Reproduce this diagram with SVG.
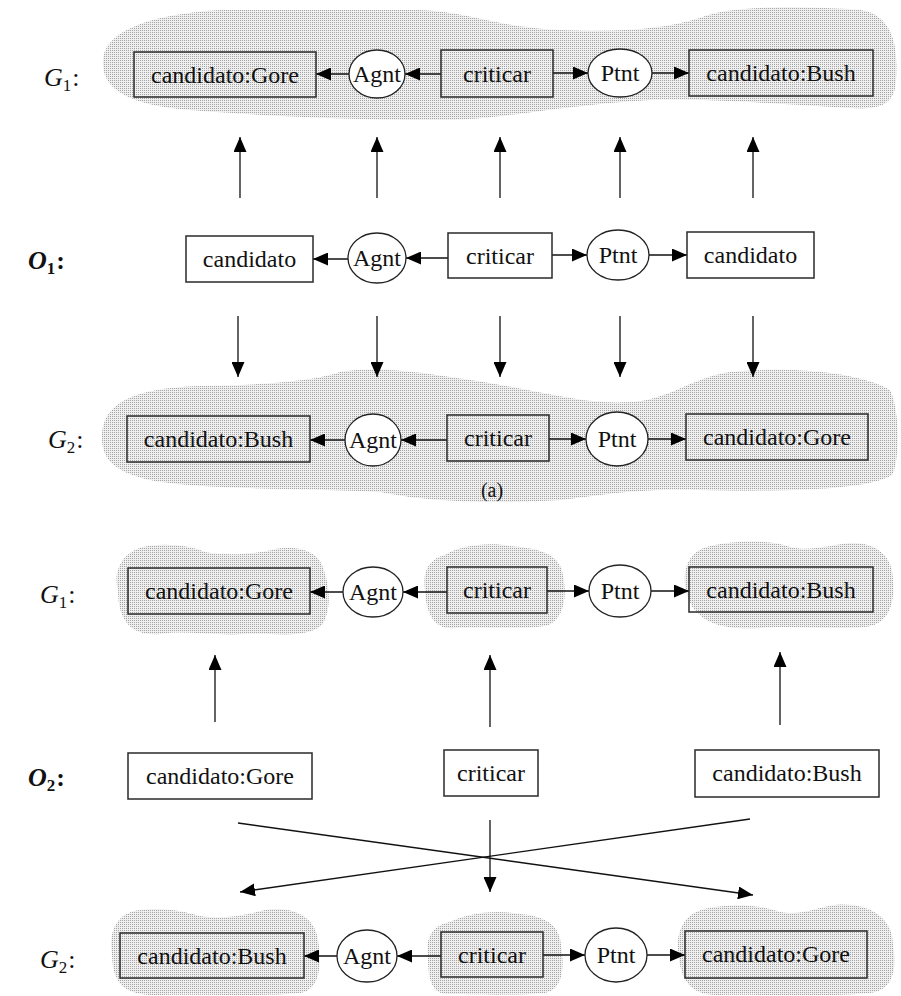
<svg xmlns="http://www.w3.org/2000/svg" width="901" height="996" viewBox="0 0 901 996">
<style>
text{font-family:"Liberation Serif","Times New Roman",serif;fill:#111}
.t{font-size:24px;text-anchor:middle}
.lbl{font-size:26px}
.sub{font-size:17px}
.box{fill:none;stroke:#2a2a2a;stroke-width:1.5}
.obox{fill:#fff;stroke:#2a2a2a;stroke-width:1.5}
.rel{fill:#fff;stroke:#222;stroke-width:1.3}
.blob{fill:url(#dots);stroke:none}
.c{stroke:#111;stroke-width:1.3;fill:none;marker-end:url(#ah)}
</style>
<defs>
<pattern id="dots" patternUnits="userSpaceOnUse" width="2" height="2">
<rect width="2" height="2" fill="#efefef"/>
<rect width="1" height="1" fill="#a4a4a4"/>
</pattern>
<marker id="ah" markerUnits="userSpaceOnUse" markerWidth="15" markerHeight="13" refX="15" refY="6.5" orient="auto">
<path d="M0,0 L15,6.5 L0,13 Z" fill="#000"/>
</marker>
</defs>
<rect width="901" height="996" fill="#fff"/>

<g id="blobs">
<path class="blob" d="M103 65 C100 35,140 15,220 10 L420 10 C470 12,500 28,560 30 C620 32,660 30,700 18 C730 5,800 6,860 10 C895 15,898 50,896 80 C895 105,880 110,850 108 C780 104,700 98,650 100 C560 105,500 120,440 120 C350 120,250 115,190 110 C130 105,104 90,103 65 Z"/>
<path class="blob" d="M102 440 C100 405,130 388,200 386 C260 385,310 382,340 372 C380 365,430 374,470 380 C540 390,580 405,630 402 C670 400,690 378,730 372 C790 366,860 372,890 390 C900 410,900 460,892 475 C870 490,780 492,700 490 C640 488,600 495,560 500 C480 505,420 500,380 492 C300 488,200 490,150 480 C115 472,103 460,102 440 Z"/>
<path class="blob" d="M118 590 C112 570,125 552,140 548 C160 542,190 545,205 552 C225 556,255 554,272 550 C290 545,315 548,322 565 C330 585,332 610,322 625 C305 640,270 632,245 634 C215 636,185 630,160 634 C135 636,118 625,118 590 Z"/>
<path class="blob" d="M425 590 C422 568,432 558,445 555 C460 545,490 542,510 546 C535 548,560 552,563 575 C568 600,562 622,545 626 C515 630,480 626,455 628 C435 630,426 615,425 590 Z"/>
<path class="blob" d="M685 585 C683 560,695 548,715 545 C740 540,770 540,790 547 C810 552,830 545,850 543 C875 542,893 555,893 580 C895 605,888 625,865 627 C830 630,790 625,760 628 C725 630,690 625,685 585 Z"/>
<path class="blob" d="M112 955 C108 930,118 912,140 910 C165 907,185 912,200 916 C225 920,245 915,265 910 C290 906,315 915,318 940 C322 965,320 990,300 993 C260 997,200 994,160 995 C125 996,113 985,112 955 Z"/>
<path class="blob" d="M428 955 C425 935,435 925,450 922 C470 912,500 910,520 914 C545 916,560 925,561 945 C565 970,562 990,545 993 C510 996,470 994,445 994 C430 992,428 975,428 955 Z"/>
<path class="blob" d="M678 950 C676 925,690 910,710 908 C735 903,760 905,780 912 C800 916,815 908,835 905 C865 902,893 915,893 945 C897 970,893 990,870 993 C830 997,760 994,720 995 C690 996,680 980,678 950 Z"/>
</g>

<g id="labels">
<text class="lbl" x="44" y="86"><tspan font-style="italic">G</tspan><tspan class="sub" dy="5">1</tspan><tspan dy="-5" dx="1">:</tspan></text>
<text class="lbl" x="28" y="269" font-weight="bold"><tspan font-style="italic">O</tspan><tspan class="sub" dy="5">1</tspan><tspan dy="-5" dx="1">:</tspan></text>
<text class="lbl" x="48" y="448"><tspan font-style="italic">G</tspan><tspan class="sub" dy="5">2</tspan><tspan dy="-5" dx="1">:</tspan></text>
<text font-size="20" x="492" y="497" text-anchor="middle">(a)</text>
<text class="lbl" x="40" y="603"><tspan font-style="italic">G</tspan><tspan class="sub" dy="5">1</tspan><tspan dy="-5" dx="1">:</tspan></text>
<text class="lbl" x="28" y="786" font-weight="bold"><tspan font-style="italic">O</tspan><tspan class="sub" dy="5">2</tspan><tspan dy="-5" dx="1">:</tspan></text>
<text class="lbl" x="40" y="968"><tspan font-style="italic">G</tspan><tspan class="sub" dy="5">2</tspan><tspan dy="-5" dx="1">:</tspan></text>
</g>

<g id="connectors">
<path class="c" d="M441 74 H405"/>
<path class="c" d="M349 74 H316"/>
<path class="c" d="M553 73 H588"/>
<path class="c" d="M652 73 H689"/>
<path class="c" d="M448 258 H406"/>
<path class="c" d="M348 259 H313"/>
<path class="c" d="M552 255 H587"/>
<path class="c" d="M649 255 H687"/>
<path class="c" d="M447 440 H401"/>
<path class="c" d="M345 440 H310"/>
<path class="c" d="M549 439 H586"/>
<path class="c" d="M648 439 H686"/>
<path class="c" d="M240 198 V137"/>
<path class="c" d="M377 198 V137"/>
<path class="c" d="M500 198 V137"/>
<path class="c" d="M620 198 V137"/>
<path class="c" d="M753 198 V137"/>
<path class="c" d="M238 316 V377"/>
<path class="c" d="M377 316 V377"/>
<path class="c" d="M500 316 V377"/>
<path class="c" d="M620 316 V377"/>
<path class="c" d="M753 316 V377"/>
<path class="c" d="M447 592 H403"/>
<path class="c" d="M343 592 H310"/>
<path class="c" d="M547 591 H589"/>
<path class="c" d="M651 591 H689"/>
<path class="c" d="M215 722 V655"/>
<path class="c" d="M490 727 V655"/>
<path class="c" d="M780 725 V652"/>
<path class="c" d="M238 823 L753 895"/>
<path class="c" d="M750 819 L240 892"/>
<path class="c" d="M490 820 V892"/>
<path class="c" d="M441 956 H397"/>
<path class="c" d="M337 956 H304"/>
<path class="c" d="M543 955 H585"/>
<path class="c" d="M647 955 H685"/>
</g>

<g id="a-g1-gore"><rect class="box" x="134" y="52" width="182" height="45"/><text class="t" x="225" y="83">candidato:Gore</text></g>
<g id="a-g1-agnt"><ellipse class="rel" cx="377" cy="74" rx="28" ry="24"/><text class="t" x="377" y="82">Agnt</text></g>
<g id="a-g1-criticar"><rect class="box" x="441" y="50" width="112" height="47"/><text class="t" x="497" y="82">criticar</text></g>
<g id="a-g1-ptnt"><ellipse class="rel" cx="620" cy="73" rx="32" ry="24"/><text class="t" x="620" y="81">Ptnt</text></g>
<g id="a-g1-bush"><rect class="box" x="689" y="50" width="184" height="46"/><text class="t" x="781" y="81">candidato:Bush</text></g>

<g id="a-o1-cand1"><rect class="obox" x="186" y="236" width="127" height="46"/><text class="t" x="249.5" y="267">candidato</text></g>
<g id="a-o1-agnt"><ellipse class="rel" cx="377" cy="258" rx="29" ry="25"/><text class="t" x="377" y="266">Agnt</text></g>
<g id="a-o1-criticar"><rect class="obox" x="448" y="233" width="104" height="45"/><text class="t" x="500" y="264">criticar</text></g>
<g id="a-o1-ptnt"><ellipse class="rel" cx="618" cy="255" rx="31" ry="25"/><text class="t" x="618" y="263">Ptnt</text></g>
<g id="a-o1-cand2"><rect class="obox" x="687" y="232" width="127" height="46"/><text class="t" x="750.5" y="263">candidato</text></g>

<g id="a-g2-bush"><rect class="box" x="127" y="416" width="183" height="46"/><text class="t" x="218.5" y="447">candidato:Bush</text></g>
<g id="a-g2-agnt"><ellipse class="rel" cx="373" cy="440" rx="28" ry="26"/><text class="t" x="373" y="448">Agnt</text></g>
<g id="a-g2-criticar"><rect class="box" x="447" y="415" width="102" height="46"/><text class="t" x="498" y="446">criticar</text></g>
<g id="a-g2-ptnt"><ellipse class="rel" cx="617" cy="439" rx="31" ry="27"/><text class="t" x="617" y="447">Ptnt</text></g>
<g id="a-g2-gore"><rect class="box" x="686" y="414" width="182" height="46"/><text class="t" x="777" y="445">candidato:Gore</text></g>

<g id="b-g1-gore"><rect class="box" x="128" y="568" width="182" height="46"/><text class="t" x="219" y="599">candidato:Gore</text></g>
<g id="b-g1-agnt"><ellipse class="rel" cx="373" cy="592" rx="30" ry="25"/><text class="t" x="373" y="600">Agnt</text></g>
<g id="b-g1-criticar"><rect class="box" x="447" y="567" width="100" height="46"/><text class="t" x="497" y="598">criticar</text></g>
<g id="b-g1-ptnt"><ellipse class="rel" cx="620" cy="591" rx="31" ry="26"/><text class="t" x="620" y="599">Ptnt</text></g>
<g id="b-g1-bush"><rect class="box" x="689" y="567" width="184" height="45"/><text class="t" x="781" y="598">candidato:Bush</text></g>

<g id="b-o2-gore"><rect class="obox" x="128" y="753" width="184" height="46"/><text class="t" x="220" y="784">candidato:Gore</text></g>
<g id="b-o2-criticar"><rect class="obox" x="444" y="750" width="94" height="46"/><text class="t" x="491" y="781">criticar</text></g>
<g id="b-o2-bush"><rect class="obox" x="695" y="750" width="184" height="47"/><text class="t" x="787" y="781">candidato:Bush</text></g>

<g id="b-g2-bush"><rect class="box" x="120" y="933" width="184" height="45"/><text class="t" x="212" y="964">candidato:Bush</text></g>
<g id="b-g2-agnt"><ellipse class="rel" cx="367" cy="956" rx="30" ry="26"/><text class="t" x="367" y="964">Agnt</text></g>
<g id="b-g2-criticar"><rect class="box" x="441" y="932" width="102" height="45"/><text class="t" x="492" y="963">criticar</text></g>
<g id="b-g2-ptnt"><ellipse class="rel" cx="616" cy="955" rx="31" ry="27"/><text class="t" x="616" y="963">Ptnt</text></g>
<g id="b-g2-gore"><rect class="box" x="685" y="931" width="182" height="47"/><text class="t" x="776" y="962">candidato:Gore</text></g>
</svg>
